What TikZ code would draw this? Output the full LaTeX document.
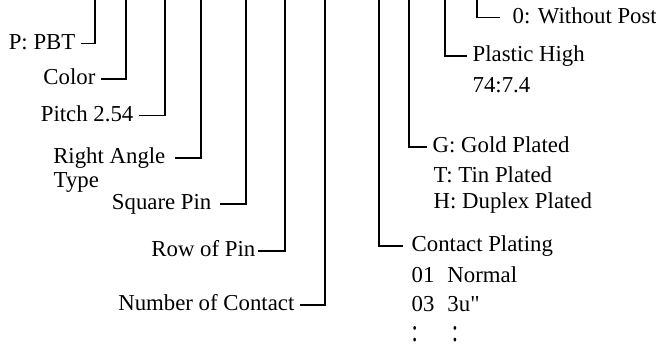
\documentclass[tikz,border=0pt]{standalone}
\usepackage{fontspec}
\setmainfont{Liberation Serif}
\newfontfamily\plainserif{Liberation Serif}

\begin{document}
\begin{tikzpicture}[x=0.5pt,y=-0.5pt,line width=0.65pt,
            lbl/.style={font=\fontsize{11.4}{13.7}\selectfont,inner ysep=0pt,inner xsep=2.5pt,text height=1.5ex,text depth=.25ex}]
            \useasboundingbox (0,0) rectangle (656,346);
            \node[lbl,anchor=east] (pbt) at (81,43.5) {P: PBT};
            \node[lbl,anchor=east] (color) at (101,79) {Color};
            \node[lbl,anchor=east] (pitch) at (139,115.5) {Pitch 2.54};
            \node[lbl,anchor=east,inner xsep=4.5pt] (angle) at (175,158) {Right Angle};
            \node[lbl,anchor=west] (type) at (48,181.5) {Type};
            \node[lbl,anchor=east,inner xsep=4pt] (pin) at (220,204) {Square Pin};
            \node[lbl,anchor=east,inner xsep=1pt] (row) at (258,251) {Row of Pin};
            \node[lbl,anchor=east] (contact) at (300,305) {Number of Contact};
            \foreach \n/\x in {pbt/95,color/126,pitch/165,angle/201,pin/246,row/285,contact/325}
            {
                \coordinate (\n-top) at (\x,0);
                \draw (\n-top) |- (\n.east);
            }
            \node[lbl,anchor=west,inner xsep=6pt] (post) at (500,17.5) {0: Without Post};
            \node[lbl,anchor=west] (high) at (467,56) {Plastic High};
            \node[lbl,anchor=west] (hival) at (467,86.5) {74:7.4};
            \node[lbl,anchor=west] (gold) at (427,147) {G: Gold Plated};
            \node[lbl,anchor=west] (tin) at (428,176.5) {T: Tin Plated};
            \node[lbl,anchor=west] (duplex) at (428,202.5) {H: Duplex Plated};
            \node[lbl,anchor=west,inner xsep=4pt] (plating) at (403,246) {Contact Plating};
            \node[lbl,anchor=west] (normal) at (406,276.5) {01\hspace{6.5pt}Normal};
            \node[lbl,anchor=west] (micro) at (406,305.5) {03\hspace{6.5pt}3u{\plainserif"}};
            \node[lbl,anchor=south west,text depth=0pt] (dots) at (406,342) {\scalebox{1}[1.4]{:}\hspace{17pt}\scalebox{1}[1.4]{:}};
            \foreach \n/\x in {plating/379,gold/409,high/445,post/477}
            {
                \coordinate (\n-top) at (\x,0);
                \draw (\n-top) |- (\n.west);
            }
\end{tikzpicture}
\end{document}
